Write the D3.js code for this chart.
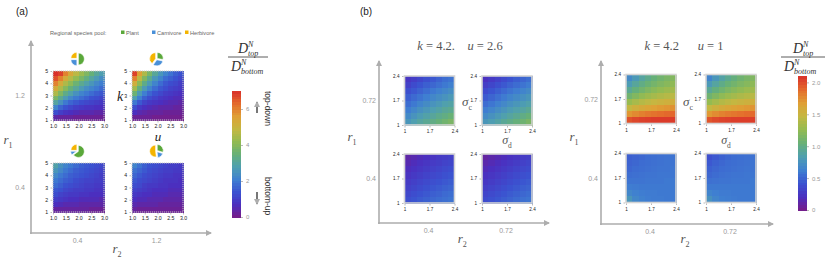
<!DOCTYPE html>
<html>
<head>
<meta charset="utf-8">
<script src="https://cdn.jsdelivr.net/npm/d3@7"></script>
<style>
  body { margin: 0; background: #fff; }
  svg { display: block; }
  text { white-space: pre; }
  .tick text { font-family: "Liberation Sans", Arial, sans-serif; }
</style>
</head>
<body>
<div id="chart"></div>
<script>
// ---- data ----
const speciesPool = ["Plant", "Carnivore", "Herbivore"];
const r1LevelsA = ["1.2", "0.4"];
const r2LevelsA = ["0.4", "1.2"];
const r1LevelsB = ["0.72", "0.4"];
const r2LevelsB = ["0.4", "0.72"];
const uTicks = [1.0, 1.5, 2.0, 2.5, 3.0];
const kTicks = [1, 2, 3, 4, 5];
const sigmaTicks = [1, 1.7, 2.4];
const cbarTicksA = [0, 2, 4, 6];
const cbarTicksB = [0, 0.5, 1.0, 1.5, 2.0];

// regional species pool shares [plant, carnivore, herbivore]
const pieA11 = [0.50, 0.25, 0.25];
const pieA12 = [0.28, 0.32, 0.40];
const pieA21 = [0.65, 0.10, 0.25];
const pieA22 = [0.30, 0.18, 0.52];

// panel (a): rows k = 5 -> 1, cols u = 1.0 -> 3.0
const heatA11 = [
  [7.0, 6.8, 6.0, 5.4, 4.8, 4.3, 3.9, 3.5, 3.1, 2.8],
  [6.6, 6.0, 5.3, 4.7, 4.2, 3.8, 3.4, 3.0, 2.7, 2.4],
  [6.0, 5.3, 4.6, 4.1, 3.6, 3.2, 2.9, 2.6, 2.3, 2.1],
  [5.3, 4.6, 4.0, 3.5, 3.1, 2.7, 2.4, 2.2, 2.0, 1.8],
  [4.6, 3.9, 3.3, 2.9, 2.5, 2.2, 2.0, 1.8, 1.6, 1.5],
  [3.8, 3.2, 2.7, 2.3, 2.0, 1.8, 1.6, 1.4, 1.3, 1.2],
  [3.0, 2.5, 2.0, 1.7, 1.5, 1.3, 1.2, 1.1, 1.0, 0.9],
  [2.2, 1.7, 1.4, 1.2, 1.0, 0.9, 0.8, 0.8, 0.7, 0.7],
  [1.3, 1.0, 0.8, 0.7, 0.6, 0.5, 0.5, 0.5, 0.4, 0.4],
  [0.4, 0.3, 0.3, 0.3, 0.2, 0.2, 0.2, 0.2, 0.2, 0.2]
];
const heatA12 = [
  [6.8, 5.6, 4.6, 3.8, 3.1, 2.6, 2.2, 1.9, 1.6, 1.4],
  [6.0, 4.8, 3.9, 3.2, 2.6, 2.2, 1.8, 1.6, 1.4, 1.2],
  [5.2, 4.1, 3.3, 2.7, 2.2, 1.8, 1.5, 1.3, 1.2, 1.0],
  [4.4, 3.4, 2.7, 2.2, 1.8, 1.5, 1.3, 1.1, 1.0, 0.9],
  [3.6, 2.7, 2.1, 1.7, 1.4, 1.2, 1.0, 0.9, 0.8, 0.7],
  [2.8, 2.1, 1.6, 1.3, 1.1, 0.9, 0.8, 0.7, 0.6, 0.6],
  [2.0, 1.5, 1.1, 0.9, 0.8, 0.7, 0.6, 0.5, 0.5, 0.4],
  [1.3, 0.9, 0.7, 0.6, 0.5, 0.4, 0.4, 0.4, 0.3, 0.3],
  [0.7, 0.5, 0.4, 0.3, 0.3, 0.3, 0.2, 0.2, 0.2, 0.2],
  [0.2, 0.2, 0.2, 0.2, 0.1, 0.1, 0.1, 0.1, 0.1, 0.1]
];
const heatA21 = [
  [2.9, 2.5, 2.2, 2.0, 1.8, 1.6, 1.5, 1.4, 1.3, 1.2],
  [2.6, 2.3, 2.0, 1.8, 1.6, 1.5, 1.4, 1.3, 1.2, 1.1],
  [2.3, 2.0, 1.8, 1.6, 1.5, 1.4, 1.3, 1.2, 1.1, 1.0],
  [2.0, 1.8, 1.6, 1.5, 1.3, 1.2, 1.1, 1.1, 1.0, 1.0],
  [1.8, 1.6, 1.4, 1.3, 1.2, 1.1, 1.0, 1.0, 0.9, 0.9],
  [1.5, 1.4, 1.2, 1.1, 1.0, 1.0, 0.9, 0.9, 0.8, 0.8],
  [1.3, 1.1, 1.0, 0.9, 0.9, 0.8, 0.8, 0.7, 0.7, 0.7],
  [1.0, 0.9, 0.8, 0.7, 0.7, 0.6, 0.6, 0.6, 0.6, 0.5],
  [0.7, 0.6, 0.5, 0.5, 0.5, 0.4, 0.4, 0.4, 0.4, 0.4],
  [0.3, 0.3, 0.3, 0.3, 0.3, 0.3, 0.3, 0.2, 0.2, 0.2]
];
const heatA22 = [
  [2.2, 1.9, 1.6, 1.4, 1.3, 1.2, 1.1, 1.0, 1.0, 0.9],
  [1.9, 1.7, 1.5, 1.3, 1.2, 1.1, 1.0, 1.0, 0.9, 0.9],
  [1.7, 1.5, 1.3, 1.2, 1.1, 1.0, 0.9, 0.9, 0.8, 0.8],
  [1.5, 1.3, 1.2, 1.1, 1.0, 0.9, 0.8, 0.8, 0.8, 0.7],
  [1.3, 1.2, 1.0, 0.9, 0.9, 0.8, 0.8, 0.7, 0.7, 0.7],
  [1.1, 1.0, 0.9, 0.8, 0.7, 0.7, 0.7, 0.6, 0.6, 0.6],
  [0.9, 0.8, 0.7, 0.7, 0.6, 0.6, 0.6, 0.5, 0.5, 0.5],
  [0.7, 0.6, 0.6, 0.5, 0.5, 0.5, 0.4, 0.4, 0.4, 0.4],
  [0.5, 0.4, 0.4, 0.4, 0.4, 0.3, 0.3, 0.3, 0.3, 0.3],
  [0.3, 0.2, 0.2, 0.2, 0.2, 0.2, 0.2, 0.2, 0.2, 0.2]
];

// panel (b), k = 4.2, u = 2.6: rows sigma_c = 2.4 -> 1, cols sigma_d = 1 -> 2.4
const heatBL11 = [
  [0.25, 0.30, 0.35, 0.40, 0.45, 0.50, 0.55, 0.58],
  [0.32, 0.38, 0.43, 0.48, 0.52, 0.56, 0.60, 0.64],
  [0.40, 0.45, 0.50, 0.55, 0.60, 0.64, 0.68, 0.72],
  [0.48, 0.53, 0.58, 0.63, 0.68, 0.72, 0.76, 0.80],
  [0.55, 0.60, 0.66, 0.71, 0.76, 0.80, 0.85, 0.88],
  [0.62, 0.68, 0.74, 0.79, 0.84, 0.88, 0.93, 0.96],
  [0.70, 0.76, 0.82, 0.87, 0.92, 0.97, 1.01, 1.06],
  [0.78, 0.84, 0.90, 0.95, 1.00, 1.05, 1.10, 1.15]
];
const heatBL12 = [
  [0.22, 0.27, 0.32, 0.37, 0.42, 0.47, 0.51, 0.55],
  [0.30, 0.35, 0.40, 0.45, 0.50, 0.54, 0.58, 0.62],
  [0.38, 0.43, 0.48, 0.53, 0.58, 0.62, 0.66, 0.70],
  [0.46, 0.51, 0.56, 0.61, 0.66, 0.70, 0.74, 0.78],
  [0.54, 0.59, 0.64, 0.69, 0.74, 0.78, 0.82, 0.86],
  [0.62, 0.67, 0.72, 0.77, 0.82, 0.86, 0.90, 0.95],
  [0.70, 0.75, 0.80, 0.85, 0.90, 0.95, 1.00, 1.05],
  [0.78, 0.83, 0.88, 0.94, 0.99, 1.04, 1.09, 1.15]
];
const heatBL21 = [
  [0.12, 0.15, 0.18, 0.21, 0.24, 0.27, 0.29, 0.31],
  [0.16, 0.19, 0.22, 0.25, 0.28, 0.30, 0.33, 0.35],
  [0.20, 0.23, 0.26, 0.29, 0.32, 0.34, 0.37, 0.39],
  [0.24, 0.27, 0.30, 0.33, 0.36, 0.38, 0.41, 0.43],
  [0.28, 0.31, 0.34, 0.37, 0.40, 0.42, 0.45, 0.47],
  [0.32, 0.35, 0.38, 0.41, 0.44, 0.46, 0.49, 0.51],
  [0.36, 0.39, 0.42, 0.45, 0.48, 0.50, 0.53, 0.55],
  [0.40, 0.43, 0.46, 0.49, 0.52, 0.54, 0.56, 0.58]
];
const heatBL22 = [
  [0.10, 0.13, 0.16, 0.19, 0.22, 0.25, 0.28, 0.30],
  [0.14, 0.17, 0.20, 0.23, 0.26, 0.29, 0.32, 0.34],
  [0.18, 0.21, 0.24, 0.27, 0.30, 0.33, 0.36, 0.38],
  [0.22, 0.25, 0.28, 0.31, 0.34, 0.37, 0.40, 0.42],
  [0.26, 0.29, 0.32, 0.35, 0.38, 0.41, 0.44, 0.46],
  [0.30, 0.33, 0.36, 0.39, 0.42, 0.45, 0.48, 0.50],
  [0.34, 0.37, 0.40, 0.43, 0.46, 0.49, 0.52, 0.54],
  [0.38, 0.41, 0.44, 0.47, 0.50, 0.53, 0.56, 0.58]
];

// panel (b), k = 4.2, u = 1
const heatBR11 = [
  [0.70, 0.80, 0.90, 0.98, 1.05, 1.10, 1.15, 1.18],
  [0.82, 0.92, 1.00, 1.07, 1.12, 1.17, 1.21, 1.24],
  [0.95, 1.04, 1.11, 1.17, 1.22, 1.26, 1.30, 1.32],
  [1.10, 1.18, 1.25, 1.30, 1.34, 1.38, 1.41, 1.43],
  [1.28, 1.35, 1.41, 1.45, 1.49, 1.52, 1.55, 1.57],
  [1.48, 1.55, 1.60, 1.64, 1.67, 1.70, 1.72, 1.74],
  [1.72, 1.77, 1.81, 1.84, 1.86, 1.88, 1.90, 1.91],
  [1.98, 2.02, 2.04, 2.05, 2.06, 2.06, 2.06, 2.06]
];
const heatBR12 = [
  [0.66, 0.78, 0.88, 0.96, 1.03, 1.09, 1.14, 1.17],
  [0.80, 0.90, 0.99, 1.06, 1.11, 1.16, 1.20, 1.23],
  [0.94, 1.03, 1.10, 1.16, 1.21, 1.25, 1.29, 1.31],
  [1.09, 1.17, 1.24, 1.29, 1.33, 1.37, 1.40, 1.42],
  [1.27, 1.34, 1.40, 1.44, 1.48, 1.51, 1.54, 1.56],
  [1.47, 1.54, 1.59, 1.63, 1.66, 1.69, 1.71, 1.73],
  [1.71, 1.76, 1.80, 1.83, 1.85, 1.87, 1.89, 1.90],
  [1.97, 2.01, 2.03, 2.04, 2.05, 2.05, 2.05, 2.05]
];
const heatBR21 = [
  [0.48, 0.50, 0.52, 0.54, 0.55, 0.56, 0.57, 0.58],
  [0.50, 0.52, 0.54, 0.55, 0.56, 0.57, 0.58, 0.58],
  [0.52, 0.54, 0.55, 0.56, 0.57, 0.58, 0.58, 0.59],
  [0.55, 0.56, 0.57, 0.58, 0.58, 0.59, 0.59, 0.59],
  [0.58, 0.58, 0.58, 0.59, 0.59, 0.59, 0.60, 0.60],
  [0.62, 0.61, 0.60, 0.60, 0.60, 0.60, 0.60, 0.60],
  [0.68, 0.64, 0.62, 0.61, 0.61, 0.60, 0.60, 0.60],
  [0.78, 0.68, 0.64, 0.62, 0.61, 0.61, 0.60, 0.60]
];
const heatBR22 = [
  [0.40, 0.45, 0.49, 0.52, 0.54, 0.55, 0.56, 0.57],
  [0.45, 0.49, 0.52, 0.54, 0.55, 0.56, 0.57, 0.58],
  [0.49, 0.52, 0.54, 0.55, 0.56, 0.57, 0.58, 0.58],
  [0.52, 0.54, 0.56, 0.57, 0.58, 0.58, 0.59, 0.59],
  [0.56, 0.57, 0.58, 0.58, 0.59, 0.59, 0.59, 0.60],
  [0.60, 0.60, 0.60, 0.60, 0.60, 0.60, 0.60, 0.60],
  [0.66, 0.63, 0.61, 0.61, 0.60, 0.60, 0.60, 0.60],
  [0.75, 0.67, 0.63, 0.62, 0.61, 0.60, 0.60, 0.60]
];

// ---- styles ----
const rainbowStops = ["#781c86", "#4b2fbf", "#3b52d0", "#3f7fd1", "#4f9fb0", "#66b078",
                      "#93bb52", "#c3b842", "#dfa035", "#e46c2c", "#d9302a"];
const poolColors = ["#5aa83a", "#4a90d8", "#f4b400"];
const axisGray = "#adadad";
const labelGray = "#555";
const serif = "'Liberation Serif', 'DejaVu Serif', serif";
const sans = "'Liberation Sans', 'DejaVu Sans', sans-serif";

const rainbow = d3.scaleLinear()
  .domain(d3.range(rainbowStops.length).map(i => i / (rainbowStops.length - 1)))
  .range(rainbowStops)
  .interpolate(d3.interpolateRgb)
  .clamp(true);
const colorA = v => rainbow(v / 7);
const colorB = v => rainbow(v / 2.1);

const svg = d3.select("#chart").append("svg")
  .attr("width", 830)
  .attr("height", 258)
  .style("font-family", sans);

svg.append("defs").append("marker")
  .attr("id", "arr")
  .attr("viewBox", "0 0 6 6")
  .attr("refX", 5)
  .attr("refY", 3)
  .attr("markerWidth", 6)
  .attr("markerHeight", 6)
  .attr("markerUnits", "userSpaceOnUse")
  .attr("orient", "auto")
  .append("path")
  .attr("d", "M0,0 L6,3 L0,6 z")
  .attr("fill", axisGray);

function arrowLine(x1, y1, x2, y2) {
  svg.append("line")
    .attr("x1", x1).attr("y1", y1).attr("x2", x2).attr("y2", y2)
    .attr("stroke", axisGray)
    .attr("stroke-width", 1.6)
    .attr("marker-end", "url(#arr)");
}

function txt(x, y, s, size, opts = {}) {
  return svg.append("text")
    .attr("x", x).attr("y", y)
    .attr("text-anchor", opts.anchor || "middle")
    .attr("font-family", opts.family || sans)
    .attr("font-style", opts.italic ? "italic" : "normal")
    .attr("font-size", size)
    .attr("fill", opts.fill || labelGray)
    .text(s);
}

// italic symbol with subscript (r1, sigma_c...)
function symSub(x, y, base, sub, size) {
  const t = svg.append("text")
    .attr("x", x).attr("y", y)
    .attr("text-anchor", "middle")
    .attr("font-family", serif)
    .attr("font-size", size)
    .attr("fill", labelGray);
  t.append("tspan").attr("font-style", "italic").text(base);
  t.append("tspan").attr("font-size", size * 0.62).attr("dy", size * 0.3).text(sub);
}

// title "k = 4.2   u = 2.6" with italic symbols
function mathTitle(x, y, parts) {
  const t = svg.append("text")
    .attr("x", x).attr("y", y)
    .attr("text-anchor", "middle")
    .attr("font-family", serif)
    .attr("font-size", 12.5)
    .attr("fill", labelGray);
  parts.forEach(([s, it]) => t.append("tspan").attr("font-style", it ? "italic" : "normal").text(s));
}

// D^N_sub
function dTerm(x, y, sub) {
  const g = svg.append("g").attr("font-family", serif).attr("font-style", "italic").attr("fill", "#333");
  g.append("text").attr("x", x).attr("y", y).attr("font-size", 14).text("D");
  g.append("text").attr("x", x + 10).attr("y", y - 6).attr("font-size", 8).text("N");
  g.append("text").attr("x", x + 10).attr("y", y + 2.5).attr("font-size", 8).text(sub);
}

function fraction(cx, y, halfW) {
  dTerm(cx - 10, y - 4, "top");
  svg.append("line")
    .attr("x1", cx - halfW).attr("x2", cx + halfW)
    .attr("y1", y).attr("y2", y)
    .attr("stroke", "#333").attr("stroke-width", 0.8);
  dTerm(cx - halfW + 3, y + 14, "bottom");
}

function styleAxis(a, fs) {
  a.select(".domain").remove();
  a.selectAll(".tick line").attr("stroke", "#777").attr("stroke-width", 0.5);
  a.selectAll(".tick text").attr("font-size", fs).attr("fill", "#222");
}

function heatmap(values, cx, cy, w, h, xTicks, yTicks, color, xFmt, style) {
  const x0 = cx - w / 2, y0 = cy - h / 2;
  const rows = values.length, cols = values[0].length;
  const xb = d3.scaleBand().domain(d3.range(cols)).range([x0, x0 + w]);
  const yb = d3.scaleBand().domain(d3.range(rows)).range([y0, y0 + h]);
  const cells = values.flatMap((row, i) => row.map((v, j) => ({ i, j, v })));
  const g = svg.append("g");
  g.append("g")
    .attr("shape-rendering", "crispEdges")
    .selectAll("rect")
    .data(cells)
    .join("rect")
    .attr("x", d => xb(d.j))
    .attr("y", d => yb(d.i))
    .attr("width", xb.bandwidth() + 0.8)
    .attr("height", yb.bandwidth() + 0.8)
    .attr("fill", d => color(d.v));

  g.append("rect")
    .attr("x", x0).attr("y", y0).attr("width", w).attr("height", h)
    .attr("fill", "none")
    .attr("stroke", style === "a" ? "#c8c8c8" : "#d4d4d4")
    .attr("stroke-width", style === "a" ? 1 : 1.6)
    .attr("stroke-dasharray", style === "a" ? "1.2,0.8" : null);

  const xs = d3.scaleLinear().domain(d3.extent(xTicks)).range([x0, x0 + w]);
  const ys = d3.scaleLinear().domain(d3.extent(yTicks)).range([y0 + h, y0]);
  const fs = style === "a" ? 5.2 : 4.6;
  const ax = g.append("g")
    .attr("transform", `translate(0,${y0 + h + 1})`)
    .call(d3.axisBottom(xs).tickValues(xTicks).tickSize(1.5).tickFormat(xFmt));
  const ay = g.append("g")
    .attr("transform", `translate(${x0 - 1},0)`)
    .call(d3.axisLeft(ys).tickValues(yTicks).tickSize(1.5).tickFormat(d => d));
  styleAxis(ax, fs);
  styleAxis(ay, fs);
  ax.selectAll(".tick text").attr("dy", "0.55em");
  ay.selectAll(".tick text").attr("dx", "0.1em");
}

function pieChart(shares, cx, cy) {
  const arcs = d3.pie().sort(null).value(d => d)(shares);
  const arc = d3.arc().innerRadius(0).outerRadius(6);
  svg.append("g")
    .attr("transform", `translate(${cx},${cy})`)
    .selectAll("path")
    .data(arcs)
    .join("path")
    .attr("transform", d => {
      const a = (d.startAngle + d.endAngle) / 2;
      return `translate(${Math.sin(a) * 0.9},${-Math.cos(a) * 0.9})`;
    })
    .attr("d", arc)
    .attr("fill", (d, i) => poolColors[i])
    .attr("stroke", "#fff")
    .attr("stroke-width", 0.6);
}

function colorbar(x, yTop, yBot, max, ticks, color, fmt) {
  const s = d3.scaleLinear().domain([0, max]).range([yBot, yTop]);
  const n = 48;
  const steps = d3.range(n).map(i => (i / n) * max);
  svg.append("g")
    .attr("shape-rendering", "crispEdges")
    .selectAll("rect")
    .data(steps)
    .join("rect")
    .attr("x", x)
    .attr("y", d => s(d + max / n))
    .attr("width", 9)
    .attr("height", (yBot - yTop) / n + 0.6)
    .attr("fill", d => color(d + max / (2 * n)));
  const a = svg.append("g")
    .attr("transform", `translate(${x + 9},0)`)
    .call(d3.axisRight(s).tickValues(ticks).tickSize(2).tickFormat(fmt));
  a.select(".domain").remove();
  a.selectAll(".tick line").attr("stroke", "#bbb");
  a.selectAll(".tick text").attr("font-size", 6).attr("fill", "#999").attr("x", 5);
}

// ================= panel (a) =================
txt(22, 15, "(a)", 10, { fill: "#222" });

// legend
txt(50, 34.5, "Regional species pool:", 5.6, { anchor: "start", fill: "#666" });
const legX = [121, 152, 185];
speciesPool.forEach((name, i) => {
  svg.append("rect").attr("x", legX[i]).attr("y", 30.5).attr("width", 3.5).attr("height", 3.5).attr("fill", poolColors[i]);
  txt(legX[i] + 5, 34.5, name, 5.6, { anchor: "start", fill: "#666" });
});

const r1A = d3.scalePoint().domain(r1LevelsA).range([95.5, 187.5]);
const r2A = d3.scalePoint().domain(r2LevelsA).range([78.5, 157.5]);

arrowLine(31, 234, 31, 41);
arrowLine(30, 233, 211, 233);
r1LevelsA.forEach(l => txt(20, r1A(l) + 2.5, l, 7, { fill: "#999" }));
r2LevelsA.forEach(l => txt(r2A(l) - 1, 243, l, 7, { fill: "#999" }));
symSub(8, 144, "r", "1", 13);
symSub(117, 253, "r", "2", 13);

const heatsA = [[heatA11, pieA11], [heatA12, pieA12], [heatA21, pieA21], [heatA22, pieA22]];
heatsA.forEach(([vals, shares], idx) => {
  const r1 = r1LevelsA[Math.floor(idx / 2)], r2 = r2LevelsA[idx % 2];
  heatmap(vals, r2A(r2), r1A(r1), 51, 49, uTicks, kTicks, colorA, d3.format(".1f"), "a");
  pieChart(shares, r2A(r2) - 1, r1A(r1) - 36.5);
});
txt(120, 101, "k", 14, { family: serif, italic: true, fill: "#222" });
txt(158, 141, "u", 13, { family: serif, italic: true, fill: "#222" });

fraction(248, 57, 20);
colorbar(232, 91, 217, 7, cbarTicksA, colorA, d3.format("d"));

// top-down / bottom-up
svg.append("text")
  .attr("transform", "translate(265,91) rotate(90)")
  .attr("font-size", 8.5).attr("fill", "#333").text("top-down");
svg.append("text")
  .attr("transform", "translate(265,177) rotate(90)")
  .attr("font-size", 8.5).attr("fill", "#333").text("bottom-up");
svg.append("line").attr("x1", 257).attr("x2", 257).attr("y1", 113).attr("y2", 102)
  .attr("stroke", "#777").attr("stroke-width", 2).attr("marker-end", "url(#arr)");
svg.append("line").attr("x1", 257).attr("x2", 257).attr("y1", 192).attr("y2", 204)
  .attr("stroke", "#777").attr("stroke-width", 2).attr("marker-end", "url(#arr)");

// ================= panel (b) =================
txt(366, 15, "(b)", 10, { fill: "#222" });

function groupB(heats, axX, axY, xEnd, r1Pos, r2Pos, title, titleX, sigmaC, sigmaD) {
  const r1 = d3.scalePoint().domain(r1LevelsB).range(r1Pos);
  const r2 = d3.scalePoint().domain(r2LevelsB).range(r2Pos);
  arrowLine(axX, axY + 1, axX, 61);
  arrowLine(axX - 1, axY, xEnd, axY);
  r1LevelsB.forEach(l => txt(axX - 3, r1(l) + 2.5, l, 7, { anchor: "end", fill: "#999" }));
  r2LevelsB.forEach(l => txt(r2(l) - 1, axY + 10, l, 7, { fill: "#999" }));
  symSub(axX - 27, 141, "r", "1", 13);
  symSub((r2Pos[0] + r2Pos[1]) / 2 - 6, 243, "r", "2", 13);
  heats.forEach((vals, idx) => {
    const a = r1LevelsB[Math.floor(idx / 2)], b = r2LevelsB[idx % 2];
    heatmap(vals, r2(b), r1(a), 50, 49, sigmaTicks, sigmaTicks, colorB, d => d, "b");
  });
  mathTitle(titleX, 50, title);
  symSub(sigmaC[0], sigmaC[1], "σ", "c", 13);
  symSub(sigmaD[0], sigmaD[1], "σ", "d", 12);
}

groupB([heatBL11, heatBL12, heatBL21, heatBL22], 379, 223, 549,
  [100.5, 178.5], [429.5, 507],
  [["k", true], [" = 4.2.    ", false], ["u", true], [" = 2.6", false]],
  460, [467, 106], [507, 144]);
groupB([heatBR11, heatBR12, heatBR21, heatBR22], 601, 224, 773,
  [99, 178], [651, 731],
  [["k", true], [" = 4.2      ", false], ["u", true], [" = 1", false]],
  684, [688, 106], [726, 144]);

fraction(803, 57, 22);
colorbar(798, 76, 210, 2.1, cbarTicksB, colorB, d => (d === 0 ? "0" : d3.format(".1f")(d)));
</script>
</body>
</html>
